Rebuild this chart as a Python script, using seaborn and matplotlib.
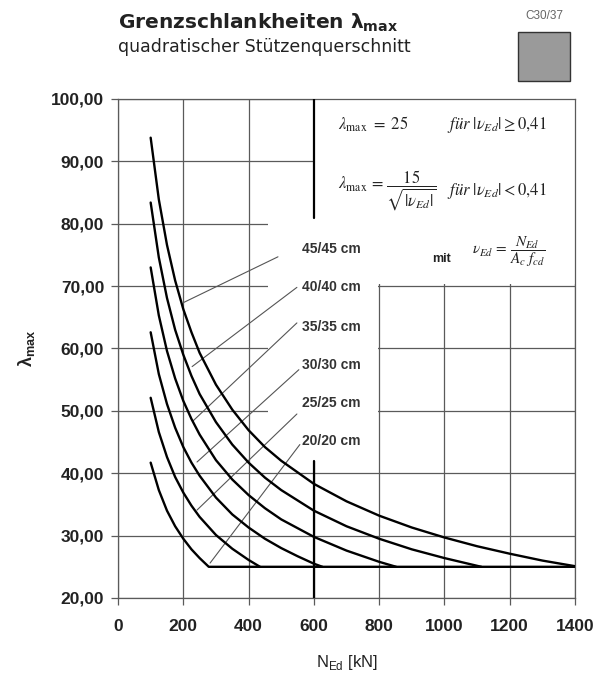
import numpy as np
import pandas as pd
import matplotlib
matplotlib.use("Agg")
import matplotlib.pyplot as plt
import matplotlib.patches as mpatches
import seaborn as sns

# values (N_Ed in kN, lambda_max)
n_20 = [100, 125, 150, 175, 200, 225, 250, 278, 1400]
l_20 = [41.7, 37.3, 34.0, 31.5, 29.5, 27.8, 26.4, 25.0, 25.0]
n_25 = [100, 125, 150, 175, 200, 225, 250, 300, 350, 400, 435]
l_25 = [52.1, 46.6, 42.6, 39.4, 36.9, 34.8, 33.0, 30.1, 27.9, 26.1, 25.0]
n_30 = [100, 125, 150, 175, 200, 225, 250, 300, 350, 400, 450, 500, 550, 600, 626]
l_30 = [62.6, 55.9, 51.1, 47.3, 44.2, 41.7, 39.6, 36.1, 33.4, 31.3, 29.5, 28.0, 26.7, 25.5, 25.0]
n_35 = [100, 125, 150, 175, 200, 225, 250, 300, 350, 400, 450, 500, 600, 700, 800, 852]
l_35 = [73.0, 65.3, 59.6, 55.2, 51.6, 48.7, 46.2, 42.1, 39.0, 36.5, 34.4, 32.6, 29.8, 27.6, 25.8, 25.0]
n_40 = [100, 125, 150, 175, 200, 225, 250, 300, 350, 400, 450, 500, 600, 700, 800, 900, 1000, 1113]
l_40 = [83.4, 74.6, 68.1, 63.0, 59.0, 55.6, 52.7, 48.2, 44.6, 41.7, 39.3, 37.3, 34.0, 31.5, 29.5, 27.8, 26.4, 25.0]
n_45 = [100, 125, 150, 175, 200, 225, 250, 300, 350, 400, 450, 500, 600, 700, 800, 900, 1000, 1100, 1200, 1300, 1400]
l_45 = [93.8, 83.9, 76.6, 70.9, 66.3, 62.6, 59.3, 54.2, 50.2, 46.9, 44.2, 42.0, 38.3, 35.5, 33.2, 31.3, 29.7, 28.3, 27.1, 26.0, 25.1]

sizes = ["20/20 cm", "25/25 cm", "30/30 cm", "35/35 cm", "40/40 cm", "45/45 cm"]
curves_n = [n_20, n_25, n_30, n_35, n_40, n_45]
curves_l = [l_20, l_25, l_30, l_35, l_40, l_45]

# label positions and leader lines (label end -> curve)
label_y = [45.2, 51.3, 57.4, 63.5, 69.9, 76.0]
lead_x0 = [557, 548, 554, 548, 548, 490]
lead_y0 = [44.6, 49.5, 56.6, 64.1, 69.8, 74.7]
lead_x1 = [282, 242, 242, 230, 227, 202]
lead_y1 = [25.6, 34.1, 41.8, 48.4, 57.1, 67.4]

x_ticks = [0, 200, 400, 600, 800, 1000, 1200, 1400]
y_ticks = [20, 30, 40, 50, 60, 70, 80, 90, 100]
y_ticklabels = ["20,00", "30,00", "40,00", "50,00", "60,00", "70,00", "80,00", "90,00", "100,00"]

rows = []
for s, ns, ls in zip(sizes, curves_n, curves_l):
    for n, l in zip(ns, ls):
        rows.append({"N": n, "lam": l, "size": s})
df = pd.DataFrame(rows)

sns.set_style("white")
plt.rcParams["font.family"] = ["Liberation Sans", "DejaVu Sans"]

fig = plt.figure(figsize=(6.04, 6.79), dpi=100)
ax = fig.add_axes([0.1954, 0.1193, 0.7566, 0.7349])

gcol = "#5a5a5a"
ax.set_xlim(0, 1400)
ax.set_ylim(20, 100)
ax.set_xticks(x_ticks)
ax.set_yticks(y_ticks)
ax.set_yticklabels(y_ticklabels)
ax.grid(True, color=gcol, lw=0.9)
ax.set_axisbelow(True)
for sp in ax.spines.values():
    sp.set_color(gcol)
    sp.set_linewidth(0.9)
ax.tick_params(axis="both", direction="out", length=5, width=0.9, color=gcol,
               labelsize=12.5, bottom=True, left=True)
ax.tick_params(axis="x", pad=10)
ax.tick_params(axis="y", pad=5)
for t in ax.get_xticklabels() + ax.get_yticklabels():
    t.set_fontweight("bold")
    t.set_color("#222222")

# white areas hiding the grid behind the labels and the formula block
ax.add_patch(mpatches.Rectangle((460, 42), 335, 39, facecolor="white", edgecolor="none", zorder=1))
ax.add_patch(mpatches.Rectangle((601, 70.3), 798, 29.5, facecolor="white", edgecolor="none", zorder=1))

# thick vertical line at 600 kN
ax.plot([600, 600], [81, 100], color="black", lw=1.6, zorder=3)
ax.plot([600, 600], [20, 42], color="black", lw=1.6, zorder=3)

sns.lineplot(data=df, x="N", y="lam", hue="size", palette=["black"] * 6,
             estimator=None, sort=False, legend=False, lw=1.7, ax=ax, zorder=4)

for s, ly, x0, y0, x1, y1 in zip(sizes, label_y, lead_x0, lead_y0, lead_x1, lead_y1):
    ax.plot([x0, x1], [y0, y1], color="#555555", lw=0.8, zorder=3)
    ax.text(563, ly, s, fontsize=10, fontweight="bold", color="#333333",
            va="center", ha="left", zorder=5)

ax.set_xlabel(r"N$_{\mathregular{Ed}}$ [kN]", fontsize=12, labelpad=14, color="#222222")
ax.set_ylabel(r"λ$_{\mathregular{max}}$", fontsize=13, fontweight="bold", labelpad=10, color="#222222")

# formulas
mk = dict(math_fontfamily="stix", color="#222222", zorder=5)
ax.text(674, 95.9, r"$\lambda_{\max}\ =\ 25$", fontsize=12, va="center", **mk)
ax.text(1008, 95.9, r"$\mathit{für}\ |\nu_{Ed}|\geq 0{,}41$", fontsize=12, va="center", **mk)
ax.text(674, 85.2, r"$\lambda_{\max}\,=\,\dfrac{15}{\sqrt{|\nu_{Ed}|}}$", fontsize=12, va="center", **mk)
ax.text(1008, 85.2, r"$\mathit{für}\ |\nu_{Ed}| < 0{,}41$", fontsize=12, va="center", **mk)
ax.text(962, 74.4, "mit", fontsize=9, fontweight="bold", va="center", color="#222222", zorder=5)
ax.text(1084, 75.6, r"$\nu_{Ed}\,=\,\dfrac{N_{Ed}}{A_c\ f_{cd}}$", fontsize=11, va="center", **mk)

# headings
fig.text(0.195, 1 - 29 / 679, r"Grenzschlankheiten λ$_{\mathregular{max}}$", fontsize=14.5,
         fontweight="bold", color="#222222", va="baseline", family=["DejaVu Sans"])
fig.text(0.195, 1 - 52 / 679, "quadratischer Stützenquerschnitt", fontsize=12.5,
         color="#222222", va="baseline", family=["DejaVu Sans"])
fig.text(544 / 604, 1 - 16 / 679, "C30/37", fontsize=8.5, color="#666666", ha="center", va="center")
fig.patches.append(mpatches.Rectangle((518 / 604, 1 - 81 / 679), 52 / 604, 49 / 679,
                                      transform=fig.transFigure, facecolor="#9a9a9a",
                                      edgecolor="#333333", lw=1.0))

fig.savefig("out.png", dpi=100)
